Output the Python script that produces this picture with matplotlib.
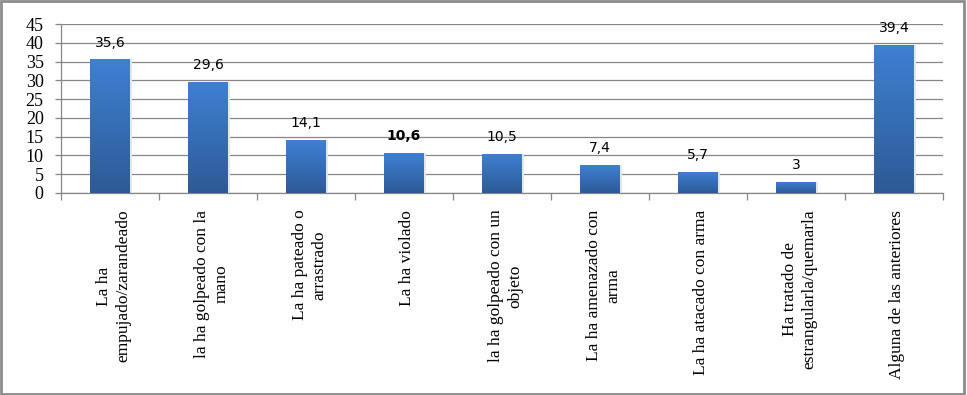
import matplotlib
matplotlib.use("Agg")
import matplotlib.pyplot as plt
import numpy as np
from matplotlib.colors import LinearSegmentedColormap
from matplotlib.patches import Rectangle

categories = [
    "La ha\nempujado/zarandeado",
    "la ha golpeado con la\nmano",
    "La ha pateado o\narrastrado",
    "La ha violado",
    "la ha golpeado con un\nobjeto",
    "La ha amenazado con\narma",
    "La ha atacado con arma",
    "Ha tratado de\nestrangularla/quemarla",
    "Alguna de las anteriores",
]
values = [35.6, 29.6, 14.1, 10.6, 10.5, 7.4, 5.7, 3.0, 39.4]
value_labels = ["35,6", "29,6", "14,1", "10,6", "10,5", "7,4", "5,7", "3", "39,4"]
bold_labels = ["10,6"]
yticks = [0, 5, 10, 15, 20, 25, 30, 35, 40, 45]

serif = ["Liberation Serif", "DejaVu Serif"]
grid_gray = "#868686"

fig = plt.figure(figsize=(9.67, 3.95), dpi=100)
ax = fig.add_axes([0.0631, 0.5114, 0.9121, 0.4278])

x = np.arange(len(values))
bars = ax.bar(x, values, width=0.4, color="#3570bd", zorder=3)

# vertical gradient inside each bar (light on top, dark at bottom)
cmap = LinearSegmentedColormap.from_list("bar", ["#2d5a96", "#3f80d3"])
grad = np.linspace(0, 1, 256).reshape(-1, 1)
for b in bars:
    x0, w, h = b.get_x(), b.get_width(), b.get_height()
    # faint shadow on the right
    ax.add_patch(Rectangle((x0 + w, 0), 0.025, h, color="#e6e6e6", zorder=2, lw=0))
    im = ax.imshow(grad, extent=[x0, x0 + w, 0, h], origin="lower", cmap=cmap,
                   aspect="auto", zorder=4, interpolation="bilinear")
    im.set_clip_path(b)

for xi, v, lab in zip(x, values, value_labels):
    ax.text(xi, v + 2.6, lab, ha="center", va="bottom", fontsize=10,
            family="DejaVu Sans", color="black",
            fontweight="bold" if lab in bold_labels else "normal", zorder=5)

ax.set_xlim(-0.5, len(values) - 0.5)
ax.set_ylim(0, 45)
ax.set_yticks(yticks)
ax.set_yticklabels([str(t) for t in yticks], family=serif, fontsize=13)
ax.tick_params(axis="y", length=4.5, pad=8, color=grid_gray, width=0.9)
ax.yaxis.grid(True, color=grid_gray, lw=0.9, zorder=0)
ax.set_axisbelow(True)

# ticks between categories
ax.set_xticks(np.arange(len(values) + 1) - 0.5)
ax.set_xticklabels([])
ax.tick_params(axis="x", length=5, color=grid_gray, width=0.9, direction="out")

for s in ["top", "right"]:
    ax.spines[s].set_visible(False)
for s in ["bottom", "left"]:
    ax.spines[s].set_color(grid_gray)
    ax.spines[s].set_linewidth(0.9)

for xi, cat in zip(x, categories):
    ax.annotate(cat, xy=(xi, 0), xycoords="data", xytext=(2.5, -12),
                textcoords="offset points", rotation=90, ha="center", va="top",
                multialignment="center", fontsize=12.5, family=serif,
                linespacing=1.3)

# outer frame of the chart
fig.patches.append(Rectangle((0.001, 0.003), 0.996, 0.994, transform=fig.transFigure,
                             fill=False, edgecolor="#8c8c8c", lw=2))

fig.savefig("out.png", dpi=100)
